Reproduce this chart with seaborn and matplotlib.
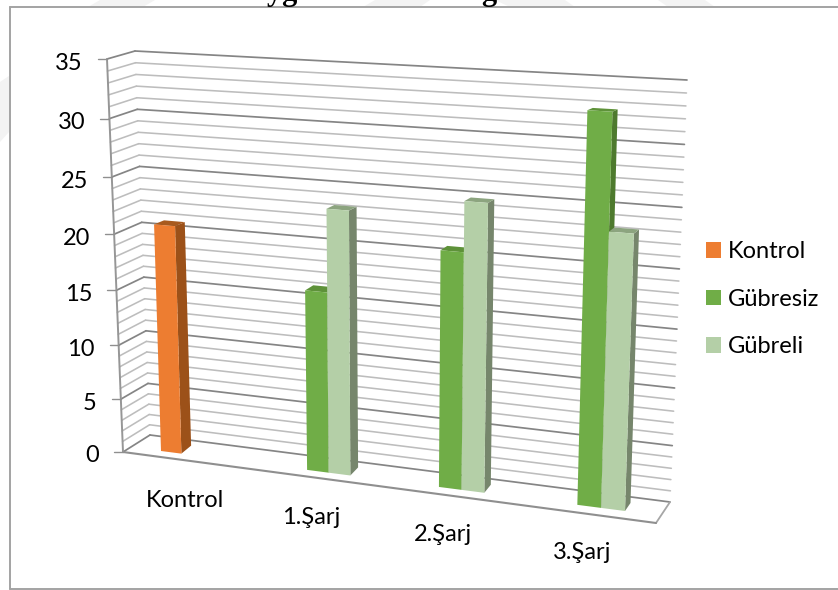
import numpy as np
import pandas as pd
import matplotlib
matplotlib.use("Agg")
import matplotlib.pyplot as plt
from matplotlib.lines import Line2D
from matplotlib.patches import Polygon
from matplotlib.transforms import Transform, IdentityTransform
import seaborn as sns

# ---- data ----
categories = ["Kontrol", "1.Şarj", "2.Şarj", "3.Şarj"]
series_names = ["Kontrol", "Gübresiz", "Gübreli"]
kontrol_values = [20.8, None, None, None]
gubresiz_values = [None, 16.2, 20.7, 32.9]
gubreli_values = [None, 23.4, 24.95, 23.4]
y_ticks = [0, 5, 10, 15, 20, 25, 30, 35]
y_minor = [v for v in range(0, 36)]

# ---- styles ----
front_colors = ["#ED7D31", "#70AD47", "#B4CFA7"]
side_colors = ["#9C5119", "#4E7A2E", "#76866C"]
top_colors = ["#A85A1E", "#5E9239", "#8CA47F"]
W, H = 838, 590
YMAX = 35.0
K = 0.015


class Perspective(Transform):
    """Projects (x, value) of one depth plane onto the canvas."""
    input_dims = 2
    output_dims = 2
    is_separable = False
    has_inverse = False

    def __init__(self, corners):
        super().__init__()
        # corners given in image pixels: (x0,0), (x1,0), (x0,1), (x1,1)
        src = [(-0.25, 0), (3.25, 0), (-0.25, 1), (3.25, 1)]
        A, b = [], []
        for (u, v), (px, py) in zip(src, corners):
            A.append([u, v, 1, 0, 0, 0, -u * px, -v * px]); b.append(px)
            A.append([0, 0, 0, u, v, 1, -u * py, -v * py]); b.append(py)
        self.h = np.append(np.linalg.solve(np.array(A, float), np.array(b, float)), 1).reshape(3, 3)

    def transform_non_affine(self, values):
        xy = np.asarray(values, float).reshape(-1, 2)
        t = xy[:, 1] / YMAX
        t = t / (1 + K * (1 - t))
        p = np.column_stack([xy[:, 0], t, np.ones(len(t))]) @ self.h.T
        return np.column_stack([p[:, 0] / p[:, 2], H - p[:, 1] / p[:, 2]])


bar_front = Perspective([(161, 451), (625, 511), (149, 59), (638.6, 86)])
bar_back = Perspective([(171, 443), (630.5, 503), (159, 58), (643.6, 84)])
wall_back = Perspective([(150, 435), (670, 502), (135, 51), (687, 80)])
wall_front = Perspective([(123, 452), (656, 523), (107, 59), (672, 90)])

sns.set_theme(style="white")
plt.rcParams["font.family"] = ["Lato", "DejaVu Sans"]
plt.rcParams["font.size"] = 17

rows = []
for name, vals in zip(series_names, [kontrol_values, gubresiz_values, gubreli_values]):
    for cat, val in zip(categories, vals):
        rows.append({"Dönem": cat, "Seri": name, "Değer": val})
df = pd.DataFrame(rows).dropna()

fig = plt.figure(figsize=(W / 100, H / 100), dpi=100, facecolor="white")

# faint watermark bands that show outside the chart frame
for pts in [[(0, 82), (9, 76), (9, 132), (0, 142)],
            [(88, 7), (100, 0), (155, 0), (143, 7)],
            [(363, 7), (375, 0), (430, 0), (420, 7)],
            [(495, 0), (565, 0), (575, 7), (510, 7)],
            [(658, 0), (705, 0), (715, 7), (668, 7)]]:
    fig.add_artist(Polygon([(x, H - y) for x, y in pts], closed=True, fc="#f3f3f3", ec="none",
                           transform=IdentityTransform(), zorder=-5))

ax = fig.add_axes([0, 0, 1, 1])
ax.patch.set_alpha(0)
sns.barplot(data=df, x="Dönem", y="Değer", hue="Seri", order=categories,
            hue_order=series_names, palette=front_colors, width=0.5, gap=0,
            dodge=True, saturation=1, errorbar=None, linewidth=0, ax=ax)

# bars: front face from seaborn, sides and tops derived from the same rectangles
for s, container in enumerate(ax.containers):
    for bar in container:
        x0, x1, h = bar.get_x(), bar.get_x() + bar.get_width(), bar.get_height()
        if not np.isfinite(h) or h == 0:
            continue
        bar.set_transform(bar_front)
        bar.set_clip_on(False)
        bar.set_zorder(11 + 2 * s)
        side = np.vstack([bar_front.transform([(x1, 0)]), bar_back.transform([(x1, 0)]),
                          bar_back.transform([(x1, h)]), bar_front.transform([(x1, h)])])
        top = np.vstack([bar_front.transform([(x0, h)]), bar_front.transform([(x1, h)]),
                         bar_back.transform([(x1, h)]), bar_back.transform([(x0, h)])])
        ax.add_patch(Polygon(side, closed=True, transform=IdentityTransform(), fc=side_colors[s],
                             ec="none", zorder=10 + 2 * s, clip_on=False))
        ax.add_patch(Polygon(top, closed=True, transform=IdentityTransform(), fc=top_colors[s],
                             ec="none", zorder=10 + 2 * s, clip_on=False))

# walls: gridlines on back wall and left wall
XL, XR = -0.25, 3.25
for v in y_minor:
    major = v in y_ticks
    col = "#858585" if major else "#bdbdbd"
    lw = 1.25 if major else 1.15
    ax.plot([XL, XR], [v, v], color=col, lw=lw, transform=wall_back, zorder=3 + major, clip_on=False)
    a = wall_front.transform([(XL, v)])[0]
    b = wall_back.transform([(XL, v)])[0]
    ax.plot([a[0], b[0]], [a[1], b[1]], color=col, lw=lw, transform=IdentityTransform(),
            zorder=3 + major, clip_on=False)

# floor outline and vertical axis
axis_col = "#8f8f8f"
ax.plot([XL, XR], [0, 0], color=axis_col, lw=1.5, transform=wall_front, zorder=9, clip_on=False)
a = wall_front.transform([(XR, 0)])[0]
b = wall_back.transform([(XR, 0)])[0]
ax.plot([a[0], b[0]], [a[1], b[1]], color="#a6a6a6", lw=1.3, transform=IdentityTransform(), zorder=5)
ax.plot([XL, XL], [0, YMAX], color="#969696", lw=1.4, transform=wall_front, zorder=9, clip_on=False)

# value ticks and labels along the front edge of the left wall
for v in y_ticks:
    p = wall_front.transform([(XL, v)])[0]
    ax.plot([p[0] - 9, p[0]], [p[1], p[1]], color="#8f8f8f", lw=1.0,
            transform=IdentityTransform(), zorder=9)
    ax.annotate(str(v), xy=(XL, v), xycoords=wall_front, xytext=(-24, -4),
                textcoords="offset pixels", ha="right", va="center", fontsize=17, color="black")

# category labels below the floor
for i, cat in enumerate(categories):
    ax.annotate(cat, xy=(i, 0), xycoords=bar_front, xytext=(-7, -46),
                textcoords="offset pixels", ha="center", va="center", fontsize=17, color="black")

ax.set_xlim(-0.5, 3.5)
ax.set_ylim(0, YMAX)
ax.set_axis_off()

# legend
handles, labels = ax.get_legend_handles_labels()
leg = ax.legend(handles, labels, frameon=False, loc="upper left",
                bbox_to_anchor=(706 / W, 1 - 241.5 / H), bbox_transform=fig.transFigure,
                fontsize=17, handlelength=0.64, handleheight=0.64, handletextpad=0.3,
                labelspacing=1.12, borderpad=0, borderaxespad=0)
for t in leg.get_texts():
    t.set_color("black")

# frame of the chart, open on the right where the picture is cut
frame = "#a3a3a3"
for xs, ys in [((9.5, 9.5), (7, 589)), ((9.5, W), (7, 7)), ((9.5, W), (589, 589))]:
    fig.add_artist(Line2D(xs, [H - y for y in ys], color=frame, lw=1.4,
                          transform=IdentityTransform()))

# remnants of the heading, cut by the top of the picture
for x_px, word in [(245, "Uygulamaları"), (481, "g")]:
    fig.text(x_px / W, 1.0, word, fontsize=22, fontweight="bold",
             family="Liberation Serif", va="baseline", ha="left", color="black")

fig.savefig("out.png", dpi=100, facecolor="white")
